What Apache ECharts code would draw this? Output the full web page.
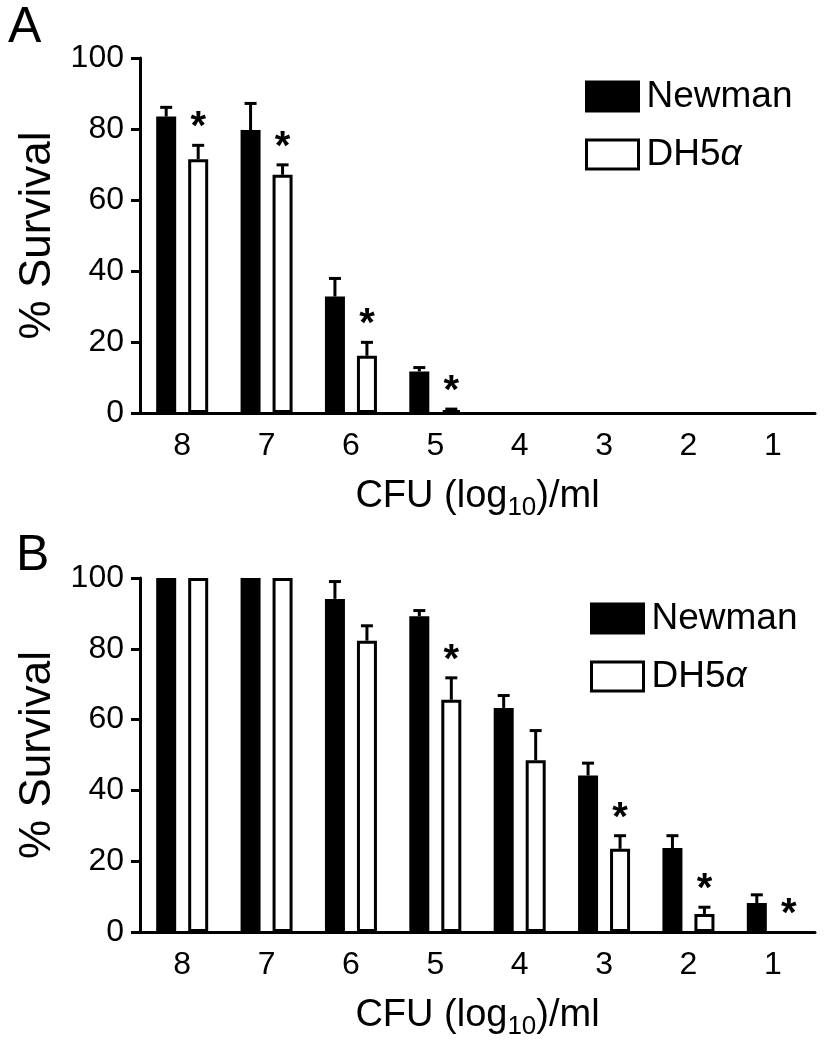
<!DOCTYPE html>
<html><head><meta charset="utf-8">
<script src="https://cdn.jsdelivr.net/npm/echarts@6/dist/echarts.min.js"></script>
<style>html,body{margin:0;padding:0;background:#fff}#c{width:828px;height:1050px}</style>
</head><body><div id="c"></div>
<script>
const categories = ['8','7','6','5','4','3','2','1'];
const seriesNames = ['Newman', 'DH5\u03b1'];
const panelLabels = ['A', 'B'];
const yAxisTitle = '% Survival';
const xAxisTitle = 'CFU (log{sub|10})/ml';

const aNewman    = [83.5, 79.7, 32.8, 11.7, 0, 0, 0, 0];
const aNewmanErr = [2.6, 7.5, 5.1, 1.1, 0, 0, 0, 0];
const aDH5a      = [71.5, 67.1, 16.1, 0.8, 0, 0, 0, 0];
const aDH5aErr   = [3.9, 2.8, 3.8, 0.3, 0, 0, 0, 0];
const aStars     = [1, 1, 1, 1, 0, 0, 0, 0];

const bNewman    = [100, 100, 94.1, 89.2, 63.3, 44.2, 23.7, 8.2];
const bNewmanErr = [0, 0, 4.9, 1.6, 3.5, 3.5, 3.5, 2.3];
const bDH5a      = [100, 100, 82.3, 65.6, 48.5, 23.5, 5.1, 0];
const bDH5aErr   = [0, 0, 4.2, 6.2, 8.4, 3.7, 1.9, 0];
const bStars     = [0, 0, 0, 1, 0, 1, 1, 1];
const noStars    = [0, 0, 0, 0, 0, 0, 0, 0];

const FONT = '"Liberation Sans", Arial, sans-serif';
const BAR_W = 20, OFF = 16;

function makeErr(offset) {
  return function (params, api) {
    const i = api.value(0), v = api.value(1), e = api.value(2), s = api.value(3);
    const base = api.coord([i, v]);
    const top = api.coord([i, v + e]);
    const x = base[0] + offset;
    const children = [];
    if (e > 0) {
      children.push({type: 'line', shape: {x1: x, y1: base[1], x2: x, y2: top[1]}, style: {stroke: '#000', lineWidth: 3}});
      children.push({type: 'line', shape: {x1: x - 6, y1: top[1], x2: x + 6, y2: top[1]}, style: {stroke: '#000', lineWidth: 3}});
    }
    if (s) {
      children.push({type: 'text', x: x, y: top[1] - 17, style: {text: '*', fontSize: 40, fontWeight: 'bold', fontFamily: FONT, fill: '#000', align: 'center', verticalAlign: 'middle'}});
    }
    return {type: 'group', children: children};
  };
}

function errData(vals, errs, stars) {
  return vals.map((v, i) => [i, v, errs[i], stars[i]]);
}
// zero-height bars are not drawn (no outline stub on the axis)
function barData(vals) {
  return vals.map(v => (v === 0 ? '-' : v));
}

const grids = [
  {left: 140, right: 13, top: 58, height: 355},
  {left: 140, right: 13, top: 578, height: 354}
];

function xAx(gi) {
  return {
    type: 'category', gridIndex: gi, data: categories,
    axisLine: {lineStyle: {color: '#000', width: 3}},
    axisTick: {alignWithLabel: true, length: 10, lineStyle: {color: '#000', width: 3}},
    axisLabel: {color: '#000', fontSize: 32, fontFamily: FONT, margin: 17},
    name: xAxisTitle, nameLocation: 'middle', nameGap: 62,
    nameTextStyle: {color: '#000', fontSize: 38, fontFamily: FONT, lineHeight: 44,
      rich: {sub: {fontSize: 26, fontFamily: FONT, color: '#000', lineHeight: 22, padding: [22, 0, 0, 0]}}}
  };
}
function yAx(gi) {
  return {
    type: 'value', gridIndex: gi, min: 0, max: 100, interval: 20,
    splitLine: {show: false},
    axisLine: {show: true, lineStyle: {color: '#000', width: 3}},
    axisTick: {show: true, length: 9, lineStyle: {color: '#000', width: 3}},
    axisLabel: {color: '#000', fontSize: 32, fontFamily: FONT, margin: 16},
    name: yAxisTitle, nameLocation: 'middle', nameGap: 72, nameRotate: 90,
    nameTextStyle: {color: '#000', fontSize: 44, fontFamily: FONT}
  };
}

function panelSeries(gi, newman, newmanErr, dh, dhErr, stars) {
  return [
    {name: seriesNames[0], type: 'bar', xAxisIndex: gi, yAxisIndex: gi, data: barData(newman),
      barWidth: BAR_W, barGap: '60%',
      itemStyle: {color: '#000', borderColor: '#000', borderWidth: 3}},
    {name: seriesNames[1], type: 'bar', xAxisIndex: gi, yAxisIndex: gi, data: barData(dh),
      barWidth: BAR_W, barGap: '60%',
      itemStyle: {color: '#fff', borderColor: '#000', borderWidth: 3}},
    {type: 'custom', xAxisIndex: gi, yAxisIndex: gi, renderItem: makeErr(-OFF),
      data: errData(newman, newmanErr, noStars), encode: {x: 0, y: 1}, z: 5, silent: true},
    {type: 'custom', xAxisIndex: gi, yAxisIndex: gi, renderItem: makeErr(OFF),
      data: errData(dh, dhErr, stars), encode: {x: 0, y: 1}, z: 5, silent: true}
  ];
}

function legend(left, top) {
  return {
    data: seriesNames, orient: 'vertical', left: left, top: top, padding: 0,
    itemWidth: 52, itemHeight: 29, itemGap: 21, icon: 'rect',
    itemStyle: {borderColor: '#000', borderWidth: 3},
    formatter: function (n) { return n === seriesNames[1] ? 'DH5{g|\u03b1}' : n; },
    textStyle: {color: '#000', fontSize: 37, fontFamily: FONT, padding: [0, 0, 0, 3],
      rich: {g: {fontSize: 37, fontStyle: 'italic', fontFamily: FONT, color: '#000'}}},
    selectedMode: false
  };
}

const chart = echarts.init(document.getElementById('c'), null, {renderer: 'canvas'});
chart.setOption({
  animation: false,
  backgroundColor: '#fff',
  title: [
    {text: panelLabels[0], left: 8, top: 3, padding: 0, textStyle: {fontSize: 50, fontWeight: 'normal', color: '#000', fontFamily: FONT}},
    {text: panelLabels[1], left: 16, top: 531, padding: 0, textStyle: {fontSize: 50, fontWeight: 'normal', color: '#000', fontFamily: FONT}}
  ],
  legend: [legend(585, 78), legend(590, 600)],
  grid: grids,
  xAxis: [xAx(0), xAx(1)],
  yAxis: [yAx(0), yAx(1)],
  series: [].concat(
    panelSeries(0, aNewman, aNewmanErr, aDH5a, aDH5aErr, aStars),
    panelSeries(1, bNewman, bNewmanErr, bDH5a, bDH5aErr, bStars)
  )
});
</script></body></html>
